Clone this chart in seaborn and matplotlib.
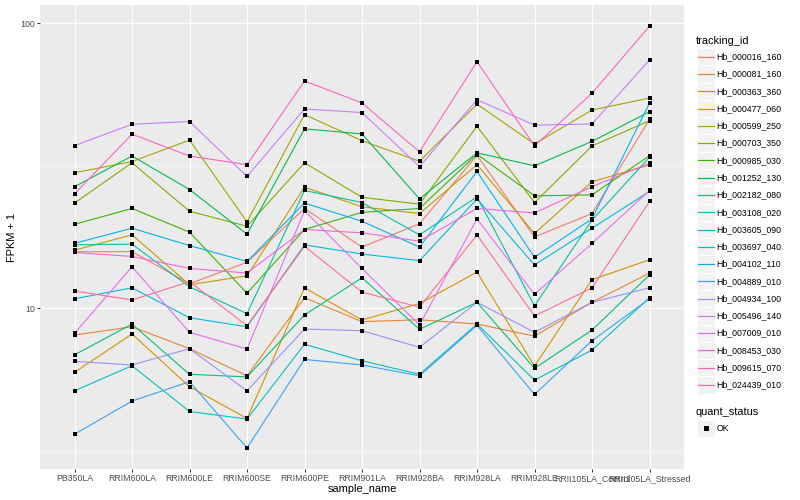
import numpy as np
import pandas as pd
import matplotlib
matplotlib.use("Agg")          # non-interactive backend
import matplotlib.pyplot as plt
import seaborn as sns
from matplotlib.lines import Line2D
from matplotlib.patches import Rectangle
from matplotlib.ticker import NullFormatter

# ── Data (FPKM + 1) ──────────────────────────────────────────────────────────
samples = ["PB350LA", "RRIM600LA", "RRIM600LE", "RRIM600SE", "RRIM600PE",
           "RRIM901LA", "RRIM928BA", "RRIM928LA", "RRIM928LE",
           "RRII105LA_Control", "RRII105LA_Stressed"]

tracking_ids = ["Hb_000016_160", "Hb_000081_160", "Hb_000363_360", "Hb_000477_060",
                "Hb_000599_250", "Hb_000703_350", "Hb_000985_030", "Hb_001252_130",
                "Hb_002182_080", "Hb_003108_020", "Hb_003605_090", "Hb_003697_040",
                "Hb_004102_110", "Hb_004889_010", "Hb_004934_100", "Hb_005496_140",
                "Hb_007009_010", "Hb_008453_030", "Hb_009615_070", "Hb_024439_010"]

# ggplot2 default hue palette, 20 levels
colors = ["#F8766D", "#EA8331", "#D89000", "#C09B00", "#A3A500", "#7CAE00",
          "#39B600", "#00BB4E", "#00BF7D", "#00C1A3", "#00BFC4", "#00BAE0",
          "#00B0F6", "#35A2FF", "#9590FF", "#C77CFF", "#E76BF3", "#FA62DB",
          "#FF62BC", "#FF6C91"]

hb_000016_160 = [15.8, 15.8, 12.2, 14.5, 22.4, 16.4, 19.8, 34.4, 17.8, 21.5, 46.0]
hb_000081_160 = [8.06, 8.62, 7.22, 5.80, 10.9, 8.98, 9.12, 8.81, 7.99, 10.5, 13.3]
hb_000363_360 = [5.96, 8.13, 5.31, 4.11, 11.8, 9.10, 10.4, 13.4, 6.27, 12.6, 14.8]
hb_000477_060 = [16.0, 18.1, 12.1, 13.0, 26.6, 22.7, 21.5, 31.9, 18.3, 27.8, 31.8]
hb_000599_250 = [29.9, 32.7, 38.9, 20.1, 47.8, 38.7, 32.8, 52.0, 37.7, 49.6, 54.6]
hb_000703_350 = [23.4, 32.4, 21.9, 19.4, 32.4, 24.5, 23.2, 43.5, 23.5, 37.1, 45.5]
hb_000985_030 = [19.7, 22.4, 18.5, 11.3, 18.9, 21.7, 22.4, 34.7, 24.8, 25.0, 34.3]
hb_001252_130 = [26.7, 34.2, 26.1, 18.2, 42.6, 40.9, 24.2, 35.1, 31.6, 38.5, 48.9]
hb_002182_080 = [6.87, 8.81, 5.87, 5.75, 9.48, 12.8, 8.44, 10.5, 6.16, 8.39, 13.1]
hb_003108_020 = [16.7, 16.8, 11.9, 9.58, 25.9, 23.5, 18.1, 24.6, 10.2, 20.4, 33.9]
hb_003605_090 = [5.14, 6.29, 4.35, 4.09, 7.48, 6.55, 5.87, 8.81, 5.60, 7.14, 10.9]
hb_003697_040 = [10.8, 11.8, 9.27, 8.62, 16.7, 15.5, 14.7, 24.2, 14.2, 19.1, 25.7]
hb_004102_110 = [16.9, 19.1, 16.6, 14.6, 23.4, 20.2, 16.4, 30.2, 15.1, 20.6, 52.4]
hb_004889_010 = [3.62, 4.73, 5.53, 3.24, 6.62, 6.33, 5.80, 8.72, 4.99, 7.70, 10.8]
hb_004934_100 = [6.52, 6.33, 7.22, 5.14, 8.46, 8.35, 7.30, 10.5, 8.24, 10.5, 11.8]
hb_005496_140 = [37.2, 44.2, 45.2, 29.0, 50.0, 48.6, 31.4, 53.9, 43.9, 44.3, 74.3]
hb_007009_010 = [8.17, 14.0, 8.24, 7.20, 22.0, 13.8, 8.74, 20.6, 11.2, 16.9, 25.9]
hb_008453_030 = [15.7, 15.2, 13.8, 13.3, 18.9, 18.4, 17.2, 22.4, 21.6, 26.7, 32.3]
hb_009615_070 = [25.2, 40.8, 34.2, 31.9, 62.7, 52.5, 35.4, 73.3, 37.1, 56.8, 97.6]
hb_024439_010 = [11.5, 10.7, 12.4, 8.69, 16.5, 11.4, 10.1, 18.1, 9.40, 11.8, 23.7]

series = [hb_000016_160, hb_000081_160, hb_000363_360, hb_000477_060, hb_000599_250,
          hb_000703_350, hb_000985_030, hb_001252_130, hb_002182_080, hb_003108_020,
          hb_003605_090, hb_003697_040, hb_004102_110, hb_004889_010, hb_004934_100,
          hb_005496_140, hb_007009_010, hb_008453_030, hb_009615_070, hb_024439_010]

df = pd.concat(
    [pd.DataFrame({"tracking_id": tid, "sample_name": samples, "fpkm": vals})
     for tid, vals in zip(tracking_ids, series)],
    ignore_index=True,
)

# ── Style (ggplot2 theme_grey look) ──────────────────────────────────────────
plt.rcParams["font.family"] = ["Liberation Sans", "DejaVu Sans"]
W, H = 800, 500
fig = plt.figure(figsize=(W / 72, H / 72), dpi=72)
ax = fig.add_axes([40 / W, 1 - 469 / H, (684 - 40) / W, (469 - 5) / H])
ax.set_facecolor("#EBEBEB")
ax.set_axisbelow(True)
for s in ax.spines.values():
    s.set_visible(False)

sns.lineplot(data=df, x="sample_name", y="fpkm", hue="tracking_id",
             hue_order=tracking_ids, palette=colors, sort=False, estimator=None,
             linewidth=1.1, legend=False, ax=ax)
sns.scatterplot(data=df, x="sample_name", y="fpkm", color="black", marker="s",
                s=11, linewidth=0, legend=False, ax=ax, zorder=3)

ax.set_yscale("log")
ax.set_ylim(2.733, 115.8)
ax.set_xlim(-0.6, len(samples) - 0.4)
ax.set_yticks([10, 100])
ax.set_yticklabels(["10", "100"])
ax.set_yticks([10 ** 0.5, 10 ** 1.5], minor=True)
ax.yaxis.set_minor_formatter(NullFormatter())
ax.set_xticks(range(len(samples)))
ax.set_xticklabels(samples)

ax.grid(which="major", color="white", linewidth=1.1)
ax.grid(which="minor", axis="y", color="white", linewidth=0.55)
ax.tick_params(which="major", length=2.75, width=1.0, color="#333333",
               labelsize=8.8, labelcolor="#4D4D4D", pad=2.2)
ax.tick_params(which="minor", length=0)

ax.set_xlabel("sample_name", fontsize=11, labelpad=1)
ax.set_ylabel("FPKM + 1", fontsize=11, labelpad=3)

# ── Legends drawn ggplot-style in figure pixels ──────────────────────────────
def fx(px):
    return px / W


def fy(py):
    return 1 - py / H


key = 17.28
kx = 697.3
tx = 716.7
fig.text(fx(696), fy(40.7), "tracking_id", fontsize=11, va="center", ha="left")
for i, (tid, col) in enumerate(zip(tracking_ids, colors)):
    yc = 56.7 + i * key
    fig.add_artist(Rectangle((fx(kx), fy(yc + key / 2)), key / W, key / H,
                             facecolor="#F2F2F2", edgecolor="white",
                             linewidth=0.8, transform=fig.transFigure, zorder=1))
    fig.add_artist(Line2D([fx(kx + 0.5), fx(kx + key - 0.5)], [fy(yc), fy(yc)],
                          color=col, linewidth=1.2, transform=fig.transFigure,
                          zorder=5))
    fig.text(fx(tx), fy(yc), tid, fontsize=8.8, va="center", ha="left")

fig.text(fx(696), fy(412.3), "quant_status", fontsize=11, va="center", ha="left")
yc = 428.3
fig.add_artist(Rectangle((fx(kx), fy(yc + key / 2)), key / W, key / H,
                         facecolor="#F2F2F2", edgecolor="white",
                         linewidth=0.8, transform=fig.transFigure, zorder=1))
fig.add_artist(Line2D([fx(kx + key / 2)], [fy(yc)], color="black", marker="s",
                      markersize=3.3, linestyle="none", transform=fig.transFigure,
                      zorder=5))
fig.text(fx(tx), fy(yc), "OK", fontsize=8.8, va="center", ha="left")

fig.savefig("out.png", dpi=72, facecolor="white")
plt.close(fig)
